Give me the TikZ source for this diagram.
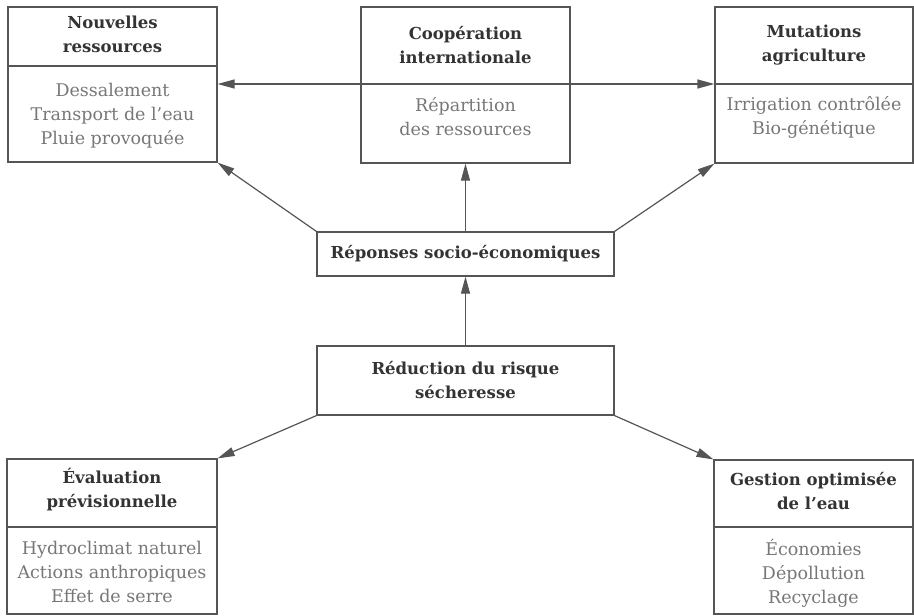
\documentclass[tikz,border=0pt]{standalone}
\usepackage{fontspec}
\setmainfont{DejaVu Serif}
\usetikzlibrary{arrows.meta}
\definecolor{linec}{HTML}{555555}
\definecolor{titlec}{HTML}{333333}
\definecolor{bodyc}{HTML}{777777}
\tikzset{
  box/.style={draw=linec, line width=1.2pt, inner sep=0pt},
  divline/.style={draw=linec, line width=1.2pt},
  ttl/.style={font=\fontsize{16.5}{24}\selectfont\bfseries, text=titlec, align=center, inner sep=0pt},
  bdy/.style={font=\fontsize{17.5}{24}\selectfont, text=bodyc, align=center, inner sep=0pt},
  tip/.tip={Triangle[length=17pt,width=9pt]},
  conn/.style={draw=linec, line width=1.2pt, -tip},
}
\begin{document}
\begin{tikzpicture}[x=1pt,y=-1pt]
\useasboundingbox (0,0) rectangle (914,616);
% top row
\node[box, minimum width=209pt, minimum height=155pt] (nr) at (112.5,84.5) {};
\node[box, minimum width=209pt, minimum height=156pt] (ci) at (465.5,85) {};
\node[box, minimum width=198pt, minimum height=156pt] (ma) at (814,85) {};
\coordinate (nrd) at (0,66);
\coordinate (hl) at (0,84);
\draw[divline] (nr.west |- nrd) -- (nr.east |- nrd);
\draw[divline] (ma.west |- hl) -- (ma.east |- hl);
\node[ttl] (nrt) at (112.5,34) {Nouvelles\\ressources};
\node[bdy] (nrb) at (112.5,116) {Dessalement\\Transport de l'eau\\Pluie provoquée};
\node[ttl] (cit) at (465.5,45) {Coopération\\internationale};
\node[bdy] (cib) at (465.5,117) {Répartition\\des ressources};
\node[ttl] (mat) at (814,45) {Mutations\\agriculture};
\node[bdy] (mab) at (814,117) {Irrigation contrôlée\\Bio-génétique};
% middle
\node[box, minimum width=297pt, minimum height=44pt] (rep) at (465.5,254) {};
\node[ttl] (rept) at (465.5,254) {Réponses socio-économiques};
\node[box, minimum width=297pt, minimum height=69pt] (red) at (465.5,380.5) {};
\node[ttl] (redt) at (465.5,380) {Réduction du risque\\sécheresse};
% bottom row
\node[box, minimum width=210pt, minimum height=155pt] (ev) at (112,536.5) {};
\node[box, minimum width=199pt, minimum height=154pt] (ge) at (813.5,537) {};
\coordinate (bd) at (0,527);
\draw[divline] (ev.west |- bd) -- (ev.east |- bd);
\draw[divline] (ge.west |- bd) -- (ge.east |- bd);
\node[ttl] (evt) at (112,490) {Évaluation\\prévisionnelle};
\node[bdy] (evb) at (112,572) {Hydroclimat naturel\\Actions anthropiques\\Effet de serre};
\node[ttl] (get) at (813.5,491) {Gestion optimisée\\de l'eau};
\node[bdy] (geb) at (813.5,573) {Économies\\Dépollution\\Recyclage};
% connectors
\draw[conn, tip-tip] (nr.east |- hl) -- (ma.west |- hl);
\draw[conn] (rep.north) -- (ci.south);
\draw[conn] (red.north) -- (rep.south);
\draw[conn] (rep.north west) -- (nr.south east);
\draw[conn] (rep.north east) -- (ma.south west);
\draw[conn] (red.south west) -- (ev.north east);
\draw[conn] (red.south east) -- (ge.north west);
\end{tikzpicture}
\end{document}
